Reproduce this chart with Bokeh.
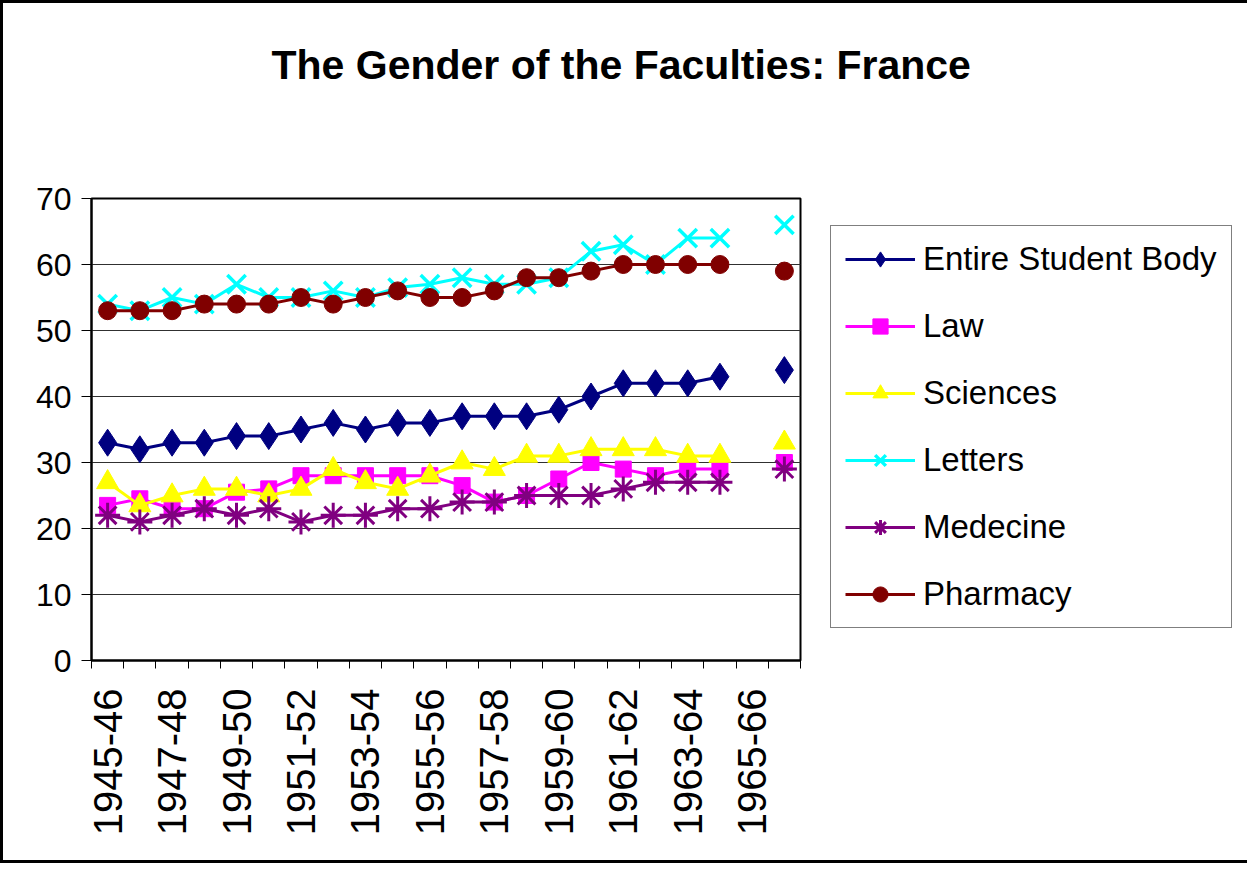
import math
from bokeh.plotting import figure
from bokeh.models import Range1d, FixedTicker, Legend, LegendItem, Title
from bokeh.embed import file_html
from bokeh.resources import INLINE

nan = float("nan")

years = ["1945-46", "1946-47", "1947-48", "1948-49", "1949-50", "1950-51",
         "1951-52", "1952-53", "1953-54", "1954-55", "1955-56", "1956-57",
         "1957-58", "1958-59", "1959-60", "1960-61", "1961-62", "1962-63",
         "1963-64", "1964-65", "1965-66", "1966-67"]

entire = [33, 32, 33, 33, 34, 34, 35, 36, 35, 36, 36, 37, 37, 37, 38, 40, 42, 42, 42, 43, nan, 44]
law = [23.5, 24.5, 23, 23, 25.5, 26, 28, 28, 28, 28, 28, 26.5, 24, 25, 27.5, 30, 29, 28, 29, 29, nan, 30]
sciences = [27, 23.5, 25, 26, 26, 25, 26, 29, 27, 26, 28, 30, 29, 31, 31, 32, 32, 32, 31, 31, nan, 33]
letters = [54, 53, 55, 54, 57, 55, 55, 56, 55, 56.5, 57, 58, 57, 57, 58, 62, 63, 60, 64, 64, nan, 66]
medecine = [22, 21, 22, 23, 22, 23, 21, 22, 22, 23, 23, 24, 24, 25, 25, 25, 26, 27, 27, 27, nan, 29]
pharmacy = [53, 53, 53, 54, 54, 54, 55, 54, 55, 56, 55, 55, 56, 58, 58, 59, 60, 60, 60, 60, nan, 59]

series_names = ["Entire Student Body", "Law", "Sciences", "Letters", "Medecine", "Pharmacy"]
yticks = [0, 10, 20, 30, 40, 50, 60, 70]

FONT = "Liberation Sans"

n = len(years)
xs = list(range(n))

p = figure(frame_width=709, frame_height=462, output_backend="svg", toolbar_location=None,
           x_range=Range1d(-0.5, n - 0.5), y_range=Range1d(0, 70),
           min_border_left=88, min_border_right=0, min_border_top=195,
           min_border_bottom=200, title=None)
p.styles = {"border": "3px solid black"}

# spacer title (closest to the frame), then the main title above it
p.add_layout(Title(text=" ", text_font_size="1px", standoff=108), "above")
p.add_layout(Title(text="The Gender of the Faculties: France", text_font=FONT,
                   text_font_size="41px", text_font_style="bold",
                   text_color="black", align="left", offset=180,
                   vertical_align="bottom", standoff=0), "above")

p.outline_line_color = "black"
p.outline_line_width = 2
p.xgrid.visible = False
p.ygrid.grid_line_color = "#303030"
p.ygrid.grid_line_width = 1

# y axis
p.yaxis.ticker = FixedTicker(ticks=yticks)
p.yaxis.axis_line_color = "black"
p.yaxis.axis_line_width = 2
p.yaxis.major_tick_out = 10
p.yaxis.major_tick_in = 0
p.yaxis.minor_tick_line_color = None
p.yaxis.major_label_text_font = FONT
p.yaxis.major_label_text_font_size = "32px"
p.yaxis.major_label_text_color = "black"
p.yaxis.major_label_standoff = 10

# x axis
p.xaxis.ticker = FixedTicker(ticks=xs[::2], minor_ticks=[i - 0.5 for i in range(n + 1)])
p.xaxis.major_label_overrides = {i: years[i] for i in xs}
p.xaxis.axis_line_color = "black"
p.xaxis.axis_line_width = 2
p.xaxis.major_tick_line_color = None
p.xaxis.minor_tick_line_color = "black"
p.xaxis.minor_tick_out = 8
p.xaxis.minor_tick_in = 0
p.xaxis.major_label_orientation = math.pi / 2
p.xaxis.major_label_text_font = FONT
p.xaxis.major_label_text_font_size = "40px"
p.xaxis.major_label_text_color = "black"
p.xaxis.major_label_standoff = 20

styles = [
    ("Entire Student Body", entire, "#000080", "diamond", 27, 1),
    ("Law", law, "#FF00FF", "square", 16, 1),
    ("Sciences", sciences, "#FFFF00", "triangle", 22, 1),
    ("Letters", letters, "#00FFFF", "x", 26, 3.5),
    ("Medecine", medecine, "#800080", "asterisk", 25, 3),
    ("Pharmacy", pharmacy, "#800000", "circle", 18, 1),
]

items = []
for name, vals, color, marker, size, lw in styles:
    lr = p.line(xs, vals, line_color=color, line_width=3)
    sr = p.scatter(xs, vals, marker=marker, size=size, fill_color=color,
                   line_color=color, line_width=lw)
    items.append(LegendItem(label=name, renderers=[lr, sr]))

legend = Legend(items=items, location=(30, 32))
legend.border_line_color = "black"
legend.border_line_width = 1
legend.background_fill_color = "white"
legend.background_fill_alpha = 1
legend.label_text_font = FONT
legend.label_text_font_size = "33px"
legend.label_text_color = "black"
legend.glyph_width = 70
legend.glyph_height = 38
legend.label_height = 38
legend.spacing = 29
legend.padding = 14
legend.label_standoff = 8
legend.margin = 0
p.add_layout(legend, "right")

open("out.html", "w").write(file_html(p, INLINE))
